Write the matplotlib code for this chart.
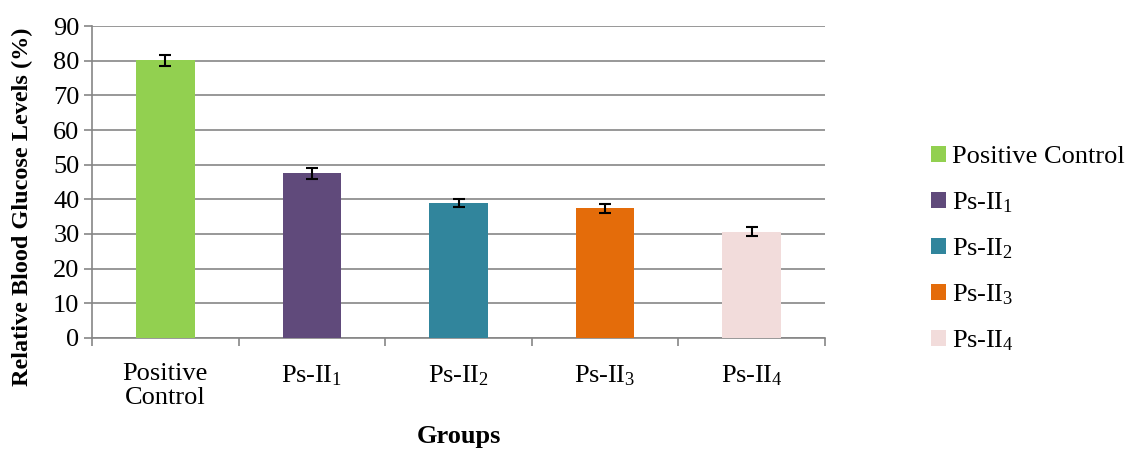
import numpy as np
import matplotlib
matplotlib.use("Agg")
import matplotlib.pyplot as plt
from matplotlib.patches import Patch

plt.rcParams['font.family'] = ['Liberation Serif', 'DejaVu Serif']
plt.rcParams['mathtext.fontset'] = 'custom'
plt.rcParams['mathtext.rm'] = 'Liberation Serif'
plt.rcParams['mathtext.it'] = 'Liberation Serif:italic'

# ----------- data -----------
groups = ['Positive\nControl', 'Ps-II$_1$', 'Ps-II$_2$', 'Ps-II$_3$', 'Ps-II$_4$']
legend_names = ['Positive Control', 'Ps-II$_1$', 'Ps-II$_2$', 'Ps-II$_3$', 'Ps-II$_4$']
glucose = [80.1, 47.5, 38.9, 37.4, 30.7]
err = [1.7, 1.5, 1.2, 1.3, 1.4]
colors = ['#92D050', '#604A7B', '#31859C', '#E46C0A', '#F2DCDB']

fig = plt.figure(figsize=(11.26, 4.5), dpi=100)
ax = fig.add_axes([0.0817, 0.249, 0.651, 0.693])

x = np.arange(len(groups))
ax.bar(x, glucose, width=0.4, color=colors, zorder=3)
ax.errorbar(x, glucose, yerr=err, fmt='none', ecolor='black', elinewidth=1.5,
            capsize=4.5, capthick=1.5, zorder=4)

ax.set_ylim(0, 90)
ax.set_yticks(np.arange(0, 91, 10))
ax.set_xlim(-0.5, len(groups) - 0.5)
ax.set_xticks(np.arange(-0.5, len(groups), 1.0))
ax.set_xticklabels([])
ax.set_xticks(x, minor=True)
ax.set_xticklabels(groups, minor=True, fontsize=19, linespacing=1.1)
ax.tick_params(axis='x', which='minor', length=0, pad=18)
ax.tick_params(axis='x', which='major', length=6, color='#868686', width=1.2)
ax.tick_params(axis='y', length=6, color='#868686', width=1.2, labelsize=19, pad=3)

ax.grid(axis='y', color='#868686', linewidth=1.2, zorder=0)
for s in ['top', 'right']:
    ax.spines[s].set_visible(False)
for s in ['left', 'bottom']:
    ax.spines[s].set_color('#868686')
    ax.spines[s].set_linewidth(1.2)

ax.set_ylabel('Relative Blood Glucose Levels (%)', fontsize=17.5, fontweight='bold', labelpad=4)
ax.yaxis.set_label_coords(-0.081, 0.42)
ax.set_xlabel('Groups', fontsize=19, fontweight='bold', labelpad=12)

handles = [Patch(facecolor=c) for c in colors]
fig.legend(handles, legend_names, loc='center left', bbox_to_anchor=(0.806, 0.445),
           frameon=False, fontsize=19, handlelength=0.55, handleheight=0.55,
           handletextpad=0.25, labelspacing=0.82)

fig.savefig('out.png', dpi=100)
